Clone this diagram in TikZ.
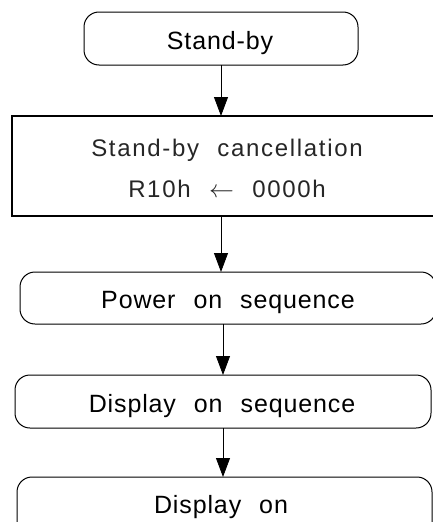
\documentclass[tikz,border=0pt]{standalone}
\usepackage{fontspec}
\setmainfont{Liberation Sans}
\newfontfamily\boxfont[LetterSpace=3.5,WordSpace=2.3]{Liberation Sans}
\newfontfamily\boxfontlight[LetterSpace=7,WordSpace=2.2]{Liberation Sans}
\usetikzlibrary{arrows.meta}
\begin{document}
\begin{tikzpicture}[x=1pt,y=-1pt,
  every node/.style={inner sep=0pt, outer sep=0pt},
  term/.style={draw=black, line width=1pt, rounded corners=15pt, anchor=north west},
  procbox/.style={draw=black, line width=1.2pt, anchor=north west},
  lbl/.style={font=\boxfont\fontsize{25}{30}\selectfont},
  lbllight/.style={font=\boxfontlight\fontsize{24}{28}\selectfont, text=black!85},
  arr/.style={line width=0.8pt, -{Triangle[length=19pt,width=14pt]}}]
\useasboundingbox (0,0) rectangle (433,522);
\clip (0,0) rectangle (433,522);
\fill[white] (0,0) rectangle (433,522);

% flow boxes
\node[term, minimum width=274pt, minimum height=53pt] (sb) at (84,12) {};
\node[procbox, minimum width=430pt, minimum height=100pt] (sbc) at (12,116) {};
\node[term, minimum width=416pt, minimum height=52pt] (pw) at (20,272) {};
\node[term, minimum width=416pt, minimum height=53pt] (dseq) at (15,375) {};
\node[term, minimum width=415pt, minimum height=60pt] (don) at (17,477) {};

% labels
\node[lbl, anchor=base] (tsb) at (220,49) {Stand-by};
\node[lbllight, anchor=base] (tsbc1) at (227,156) {Stand-by cancellation};
\node[lbllight, anchor=base] (tsbc2) at (227,197) {R10h \(\leftarrow\) 0000h};
\node[lbl, anchor=base] (tpw) at (228,308) {Power on sequence};
\node[lbl, anchor=base] (tdseq) at (222,412) {Display on sequence};
\node[lbl, anchor=base] (tdon) at (221,513) {Display on};

% connectors
\coordinate (c1) at (221,0);
\coordinate (c2) at (223,0);
\draw[arr] (c1 |- sb.south) -- (c1 |- sbc.north);
\draw[arr] (c1 |- sbc.south) -- (c1 |- pw.north);
\draw[arr] (c2 |- pw.south) -- (c2 |- dseq.north);
\draw[arr] (c2 |- dseq.south) -- (c2 |- don.north);
\end{tikzpicture}
\end{document}
